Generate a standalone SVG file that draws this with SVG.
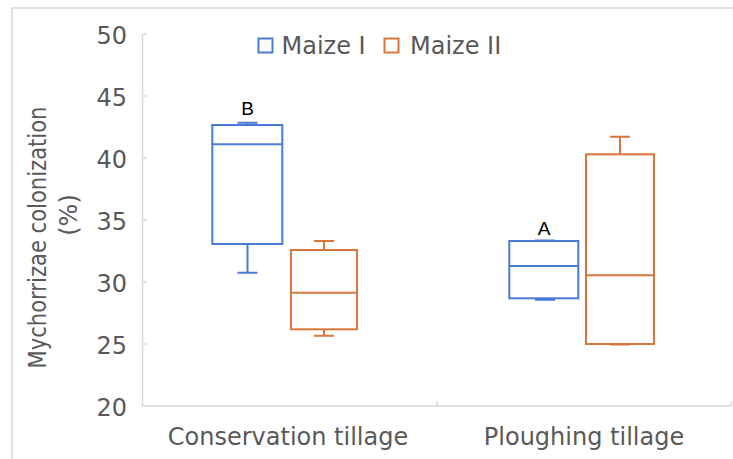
<svg xmlns="http://www.w3.org/2000/svg" width="733" height="459" viewBox="0 0 733 459">
<style>
.frame{fill:none;stroke:#d9d9d9;stroke-width:1.5}
.axis{fill:none;stroke:#d9d9d9;stroke-width:1.5}
.tick{font-family:"DejaVu Sans",Verdana,sans-serif;font-size:24px;fill:#595959;text-anchor:end}
.cat{font-family:"DejaVu Sans",Verdana,sans-serif;font-size:24px;fill:#595959;text-anchor:middle}
.leg{font-family:"DejaVu Sans",Verdana,sans-serif;font-size:24px;fill:#595959}
.ttl{font-family:"DejaVu Sans",Verdana,sans-serif;font-size:24px;fill:#595959;text-anchor:middle}
.sig{font-family:"Liberation Sans",Arial,sans-serif;font-size:19px;fill:#000;text-anchor:middle}
.b1{fill:none;stroke:#4A7BD4;stroke-width:2}
.b2{fill:none;stroke:#D9773A;stroke-width:2}
</style>
<rect width="733" height="459" fill="#ffffff"/>
<path class="frame" d="M12,459 V8 H733"/>
<g id="axes">
<path class="axis" d="M142.5,34 V406 H731.5"/>
<path class="axis" d="M142.5,34 H147 M142.5,96 H147 M142.5,158 H147 M142.5,220 H147 M142.5,282 H147 M142.5,344 H147 M437,401 V406 M731.5,401 V406"/>
<text class="tick" x="127" y="44.3">50</text>
<text class="tick" x="127" y="106.3">45</text>
<text class="tick" x="127" y="168.3">40</text>
<text class="tick" x="127" y="230.3">35</text>
<text class="tick" x="127" y="292.3">30</text>
<text class="tick" x="127" y="354.3">25</text>
<text class="tick" x="127" y="416.3">20</text>
<text class="cat" x="288" y="445">Conservation tillage</text>
<text class="cat" x="584" y="445">Ploughing tillage</text>
</g>
<g id="y-title">
<text class="ttl" transform="translate(45.5,237.5) rotate(-90)" textLength="262" lengthAdjust="spacingAndGlyphs">Mychorrizae colonization</text>
<text class="ttl" transform="translate(77,215) rotate(-90)">(%)</text>
</g>
<g id="legend">
<rect class="b1" x="258.5" y="38.5" width="14" height="14"/>
<text class="leg" x="281.5" y="54.3">Maize I</text>
<rect class="b2" x="384.5" y="38.5" width="14" height="14"/>
<text class="leg" x="410" y="54.3">Maize II</text>
</g>
<g id="conservation-maize-1">
<path class="b1" d="M247.5,125 V122.7 M237.5,122.7 H257.5 M247.5,244 V272.7 M237.5,272.7 H257.5"/>
<rect class="b1" x="212.3" y="125" width="70" height="119"/>
<path class="b1" d="M212.3,144.3 H282.3"/>
<text class="sig" x="247.5" y="115">B</text>
</g>
<g id="conservation-maize-2">
<path class="b2" d="M324,250 V241 M314,241 H334 M324,329.3 V335.7 M314,335.7 H334"/>
<rect class="b2" x="291" y="250" width="66" height="79.3"/>
<path class="b2" d="M291,292.7 H357"/>
</g>
<g id="ploughing-maize-1">
<path class="b1" d="M535,240.5 H555 M544,298.3 V299.7 M535,299.7 H555"/>
<rect class="b1" x="509.3" y="241" width="69" height="57.3"/>
<path class="b1" d="M509.3,266 H578.3"/>
<text class="sig" x="544" y="235">A</text>
</g>
<g id="ploughing-maize-2">
<path class="b2" d="M620,154.3 V136.7 M610,136.7 H630 M610,344.5 H630"/>
<rect class="b2" x="586" y="154.3" width="68" height="189.7"/>
<path class="b2" d="M586,275.3 H654"/>
</g>
</svg>
